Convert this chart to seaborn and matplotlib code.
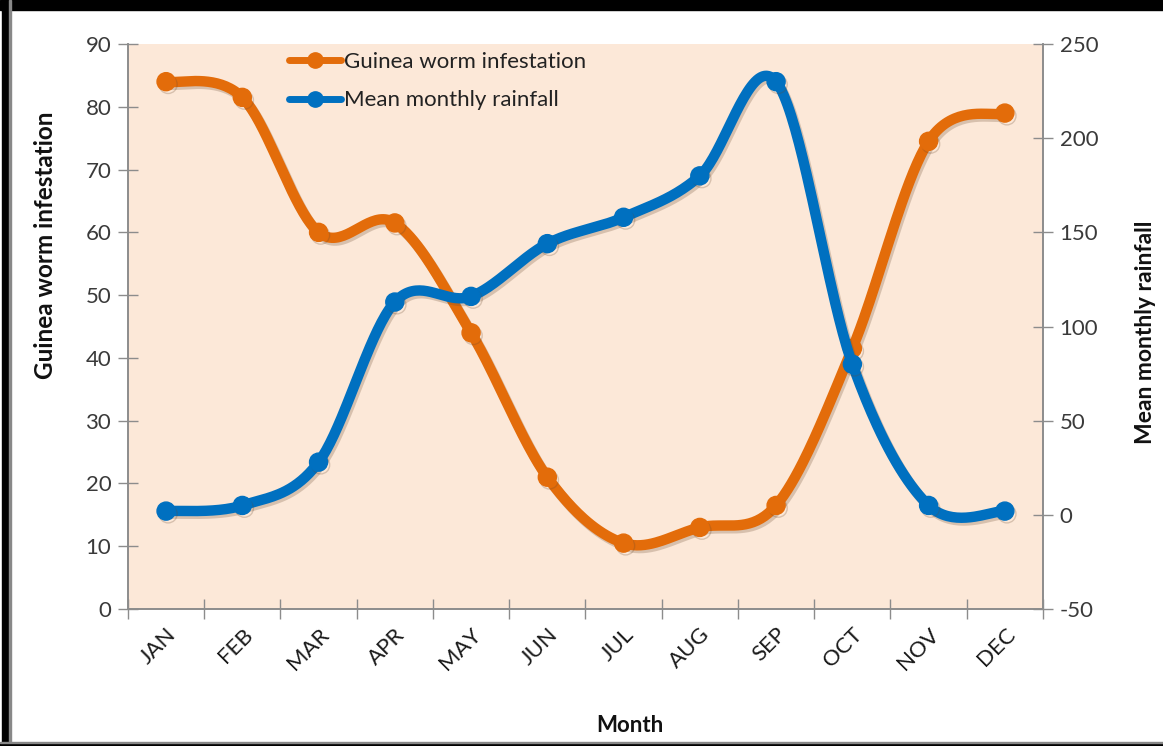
import numpy as np
import pandas as pd
import matplotlib
matplotlib.use("Agg")
import matplotlib.pyplot as plt
import matplotlib.patheffects as pe
from matplotlib.lines import Line2D
from matplotlib.patches import Rectangle
from matplotlib.ticker import FixedLocator, MultipleLocator
import seaborn as sns

# Monthly data
months = ["JAN", "FEB", "MAR", "APR", "MAY", "JUN",
          "JUL", "AUG", "SEP", "OCT", "NOV", "DEC"]
guinea_worm = [84, 81.5, 60, 61.5, 44, 21, 10.5, 13, 16.5, 41.5, 74.5, 79]
rainfall = [2, 5, 28, 113, 116, 144, 158, 180, 230, 80, 5, 2]

ORANGE = "#E36C0A"
BLUE = "#0070C0"
PLOT_BG = "#FCE8D8"
AXIS_GREY = "#8C8C8C"

sns.set_theme(style="white")
plt.rcParams["font.family"] = ["Lato", "DejaVu Sans"]
plt.rcParams["axes.unicode_minus"] = False


def smooth_curve(x, y, samples=40):
    """Cubic Bezier smoothing through every point (Catmull-Rom tangents)."""
    pts = np.column_stack([x, y]).astype(float)
    n = len(pts)
    segs = []
    for i in range(n - 1):
        p0 = pts[i - 1] if i > 0 else pts[i]
        p1, p2 = pts[i], pts[i + 1]
        p3 = pts[i + 2] if i + 2 < n else pts[i + 1]
        c1 = p1 + (p2 - p0) / 6.0
        c2 = p2 - (p3 - p1) / 6.0
        t = np.linspace(0, 1, samples, endpoint=(i == n - 2))[:, None]
        seg = ((1 - t) ** 3) * p1 + 3 * (1 - t) ** 2 * t * c1 \
            + 3 * (1 - t) * t ** 2 * c2 + t ** 3 * p2
        segs.append(seg)
    out = np.vstack(segs)
    return out[:, 0], out[:, 1]


df = pd.DataFrame({"pos": np.arange(len(months)), "month": months,
                   "worm": guinea_worm, "rain": rainfall})

sx, sw = smooth_curve(df["pos"], df["worm"])
_, sr = smooth_curve(df["pos"], df["rain"])
curves = pd.DataFrame({"x": sx, "worm": sw, "rain": sr})

fig = plt.figure(figsize=(11.63, 7.46), dpi=100)
fig.patch.set_facecolor("white")
ax = fig.add_axes([0.110, 0.1836, 0.7868, 0.7574])
ax.set_facecolor(PLOT_BG)
ax2 = ax.twinx()
ax2.patch.set_visible(False)

shadow = [pe.SimpleLineShadow(offset=(1.5, -2), alpha=0.25, shadow_color="#6b4a30"),
          pe.Normal()]

# Guinea worm infestation (left axis)
sns.lineplot(data=curves, x="x", y="worm", ax=ax, color=ORANGE, lw=7.5,
             sort=False, estimator=None, solid_capstyle="round", legend=False,
             path_effects=shadow)
ax.plot(df["pos"], df["worm"], ls="none", marker="o", ms=13, color=ORANGE,
        path_effects=shadow)

# Mean monthly rainfall (right axis)
sns.lineplot(data=curves, x="x", y="rain", ax=ax2, color=BLUE, lw=7.5,
             sort=False, estimator=None, solid_capstyle="round", legend=False,
             path_effects=shadow)
ax2.plot(df["pos"], df["rain"], ls="none", marker="o", ms=13, color=BLUE,
         path_effects=shadow)

# Axes limits and ticks
ax.set_xlim(-0.5, len(months) - 0.5)
ax.set_ylim(0, 90)
ax.yaxis.set_major_locator(MultipleLocator(10))
ax2.set_ylim(-50, 250)
ax2.yaxis.set_major_locator(MultipleLocator(50))

ax.set_xticks(df["pos"])
ax.set_xticklabels(months, rotation=45, ha="right", va="top",
                   rotation_mode="anchor")
ax.xaxis.set_minor_locator(FixedLocator(np.arange(-0.5, len(months), 1.0)))
ax.tick_params(axis="x", which="major", length=0, pad=11, labelsize=16,
               labelcolor="#1a1a1a")
ax.tick_params(axis="x", which="minor", direction="inout", length=14,
               width=1, color=AXIS_GREY, bottom=True)
ax.tick_params(axis="y", direction="inout", length=14, width=1,
               color=AXIS_GREY, labelsize=16, labelcolor="#3a3a3a", pad=5,
               left=True)
ax2.tick_params(axis="y", direction="inout", length=14, width=1,
                color=AXIS_GREY, labelsize=16, labelcolor="#3a3a3a", pad=5,
                right=True)

for a in (ax, ax2):
    a.spines["top"].set_visible(False)
    for side in ("left", "right", "bottom"):
        a.spines[side].set_color(AXIS_GREY)
        a.spines[side].set_linewidth(1.2)
ax.grid(False)
ax2.grid(False)

ax.set_xlabel("Month", fontsize=16, fontweight="bold", color="#111111")
ax.xaxis.set_label_coords(0.549, -0.188)
ax.set_ylabel("Guinea worm infestation", fontsize=17.5, fontweight="bold",
              color="#111111")
ax.yaxis.set_label_coords(-0.077, 0.644)
ax2.set_ylabel("Mean monthly rainfall", fontsize=16.5, fontweight="bold",
               color="#111111", rotation=90)
ax2.yaxis.set_label_coords(1.1005, 0.49)

handles = [
    Line2D([], [], color=ORANGE, lw=5, marker="o", ms=11),
    Line2D([], [], color=BLUE, lw=5, marker="o", ms=11),
]
leg = ax2.legend(handles, ["Guinea worm infestation", "Mean monthly rainfall"],
                 loc="upper left", bbox_to_anchor=(0.154, 1.022), frameon=False,
                 fontsize=16, handlelength=2.35, handletextpad=0.15,
                 labelspacing=0.85, labelcolor="#222222")

# Heavy black frame along the top and left of the figure
fig.patches.append(Rectangle((0, 1 - 10 / 746), 1, 10 / 746,
                             transform=fig.transFigure, color="black", zorder=10))
fig.patches.append(Rectangle((2 / 1163, 0), 7 / 1163, 1,
                             transform=fig.transFigure, color="black", zorder=10))
fig.patches.append(Rectangle((9 / 1163, 0), 1.5 / 1163, 1,
                             transform=fig.transFigure, color="#888888", zorder=10))
fig.patches.append(Rectangle((0, 0), 1, 3 / 746,
                             transform=fig.transFigure, color="black", zorder=10))
fig.patches.append(Rectangle((0, 3 / 746), 1, 1.5 / 746,
                             transform=fig.transFigure, color="#888888", zorder=10))

fig.savefig("out.png", dpi=100)
